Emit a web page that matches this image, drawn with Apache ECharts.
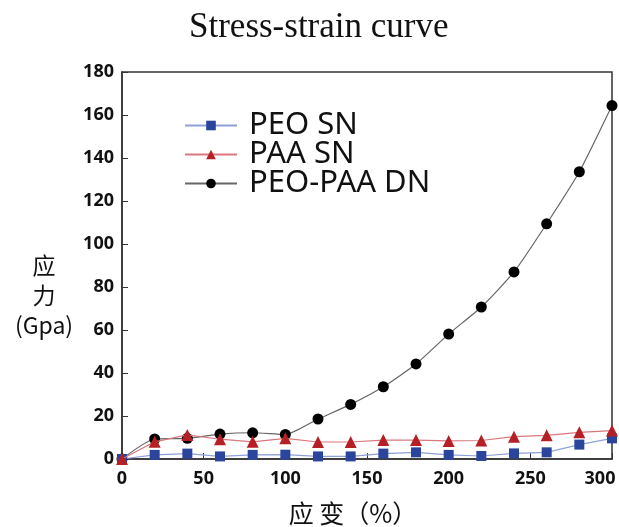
<!DOCTYPE html>
<html>
<head>
<meta charset="utf-8">
<script src="https://cdn.jsdelivr.net/npm/echarts@6/dist/echarts.min.js"></script>
<style>
  html, body { margin: 0; padding: 0; background: #fff; }
  #chart { width: 619px; height: 527px; }
</style>
</head>
<body>
<div id="chart"></div>
<script>
// strain (%) values
const strain = [0, 20, 40, 60, 80, 100, 120, 140, 160, 180, 200, 220, 240, 260, 280, 300]

// stress (Gpa) per sample
const peoSN = [0, 1.9, 2.5, 1.2, 1.9, 2.0, 1.2, 1.2, 2.5, 3.1, 1.9, 1.4, 2.6, 3.1, 6.7, 9.6]
const paaSN = [0, 8.0, 11.2, 9.2, 8.0, 9.6, 7.9, 7.9, 8.8, 8.8, 8.4, 8.6, 10.4, 11.0, 12.4, 13.2]
const dualDN = [0, 9.3, 9.6, 11.6, 12.2, 11.4, 18.6, 25.4, 33.6, 44.2, 58.1, 70.7, 87.0, 109.4, 133.6, 164.4]

const seriesNames = ['PEO SN', 'PAA SN', 'PEO-PAA DN']

const pairs = (ys) => strain.map((x, i) => [x, ys[i]])

const axisFont = { fontFamily: 'Noto Sans', fontWeight: 'bold', fontSize: 18, color: '#111' }
const cjk = 'Noto Sans CJK SC'

const option = {
  animation: false,
  backgroundColor: '#fff',
  title: {
    text: 'Stress-strain curve',
    left: 184,
    top: 5,
    textStyle: { fontFamily: 'Liberation Serif', fontWeight: 'normal', fontSize: 35, color: '#111' }
  },
  legend: {
    orient: 'vertical',
    left: 184,
    top: 110,
    padding: 0,
    itemWidth: 52,
    itemHeight: 12,
    itemGap: -2,
    data: seriesNames,
    textStyle: { fontFamily: 'Noto Sans', fontSize: 31, lineHeight: 28, color: '#111', padding: [0, 0, 0, 7] }
  },
  grid: {
    left: 122, right: 7, top: 72, bottom: 68,
    outerBoundsMode: 'none',
    show: true, borderColor: '#333', borderWidth: 1.5
  },
  xAxis: {
    type: 'value',
    min: 0, max: 300, interval: 50,
    name: '应 变（%）',
    nameLocation: 'middle',
    nameGap: 42,
    nameTextStyle: { fontFamily: cjk, fontSize: 25, color: '#111', padding: [0, 28, 0, 0] },
    axisLine: { lineStyle: { color: '#333', width: 1.5 } },
    axisTick: { inside: true, length: 6, lineStyle: { color: '#333' } },
    axisLabel: {
      ...axisFont,
      margin: 11,
      formatter: (v) => (v === 300 ? '{last|' + v + '}' : String(v)),
      rich: { last: { ...axisFont, padding: [0, 24, 0, 0] } }
    },
    splitLine: { show: false }
  },
  yAxis: {
    type: 'value',
    min: 0, max: 180, interval: 20,
    name: '\n\n应\n力\n(Gpa)',
    nameLocation: 'middle',
    nameRotate: 0,
    nameGap: 78,
    nameTextStyle: { fontFamily: cjk, fontSize: 23, color: '#111', lineHeight: 30, align: 'center' },
    axisLine: { lineStyle: { color: '#333', width: 1.5 } },
    axisTick: { inside: true, length: 6, lineStyle: { color: '#333' } },
    axisLabel: { ...axisFont, margin: 8 },
    splitLine: { show: false }
  },
  series: [
    {
      name: seriesNames[0],
      type: 'line',
      data: pairs(peoSN),
      symbol: 'rect',
      symbolSize: 10,
      itemStyle: { color: '#2b449c' },
      lineStyle: { color: '#8ea2d8', width: 1.2 },
      z: 3
    },
    {
      name: seriesNames[1],
      type: 'line',
      data: pairs(paaSN),
      symbol: 'triangle',
      symbolSize: 12,
      itemStyle: { color: '#b42025' },
      lineStyle: { color: '#d9787c', width: 1.2 },
      z: 4
    },
    {
      name: seriesNames[2],
      type: 'line',
      data: pairs(dualDN),
      symbol: 'circle',
      symbolSize: 11,
      smooth: 0.2,
      itemStyle: { color: '#000' },
      lineStyle: { color: '#666', width: 1.2 },
      z: 2
    }
  ]
}

const myChart = echarts.init(document.getElementById('chart'))
myChart.setOption(option)
</script>
</body>
</html>
